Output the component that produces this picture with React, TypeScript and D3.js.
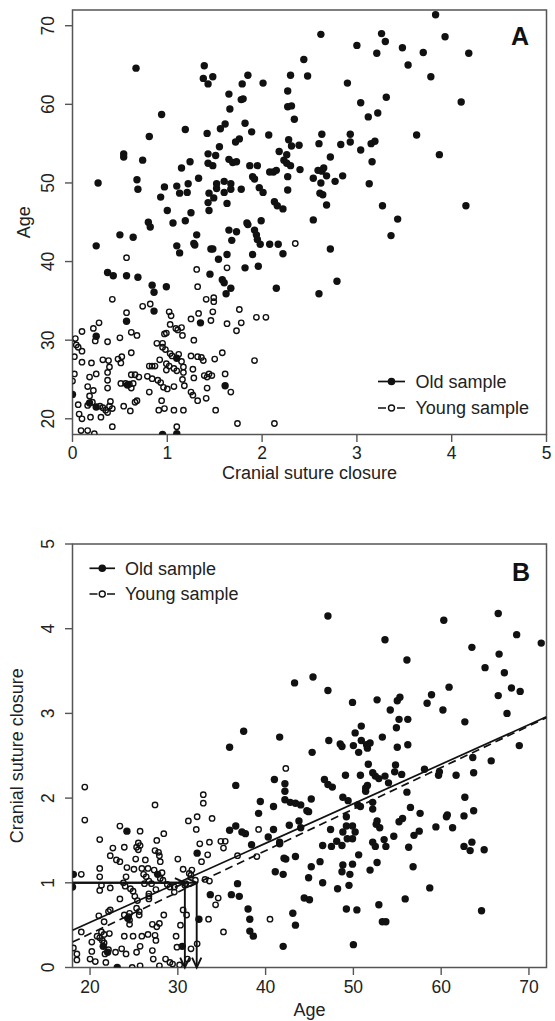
import React from 'react';
import * as d3 from 'd3';

const W = 555;
const H = 1021;
const FONT = "'Liberation Sans', Arial, Helvetica, sans-serif";

// [cranial suture closure, age]
const oldSample: [number, number][] = [
  [3.83,71.4],[2.62,68.9],[3.26,69.0],[3.30,68.0],[3.93,68.6],[3.00,67.5],[3.21,66.5],[3.48,67.2],[3.70,66.6],[4.18,66.5],
  [2.44,65.7],[3.54,65.0],[0.67,64.6],[1.39,64.9],[1.38,63.3],[1.43,62.6],[1.48,63.5],[1.85,63.7],[1.79,62.6],[2.01,62.7],
  [2.30,63.7],[2.48,63.6],[3.78,63.5],[2.90,62.7],[2.27,61.7],[1.65,61.3],[1.78,60.6],[1.80,60.7],[3.04,60.2],[3.31,60.9],
  [4.10,60.3],[2.27,59.7],[2.31,59.8],[1.66,59.4],[0.94,58.7],[2.34,58.1],[3.12,58.4],[3.22,58.9],[1.61,57.5],[1.82,57.6],
  [1.56,56.9],[1.19,56.8],[1.89,56.5],[0.81,55.9],[1.42,56.3],[1.76,55.6],[1.72,55.2],[2.07,56.1],[2.63,56.2],[2.93,56.2],
  [3.63,56.1],[2.28,55.5],[3.15,55.0],[3.19,55.3],[2.60,55.0],[2.31,54.7],[2.39,54.8],[2.83,54.9],[2.93,55.2],[1.55,54.6],
  [1.43,53.7],[1.51,53.5],[2.18,54.0],[3.04,54.2],[3.87,53.6],[0.54,53.7],[0.54,53.3],[0.74,52.9],[1.24,52.7],[1.43,52.5],
  [1.48,52.2],[1.65,53.0],[1.69,52.6],[1.73,52.7],[1.15,51.9],[1.87,52.2],[1.95,52.2],[2.23,52.9],[2.26,53.6],[2.26,52.5],
  [2.30,52.2],[2.40,51.7],[2.72,53.3],[3.16,52.7],[2.12,51.4],[2.15,51.6],[2.08,51.4],[2.59,51.6],[2.63,51.5],[2.65,51.9],
  [2.68,50.9],[2.85,50.9],[2.77,50.2],[2.54,50.6],[1.90,50.8],[1.92,50.5],[2.27,50.8],[3.13,49.9],[2.62,50.0],[0.27,50.0],
  [0.68,50.4],[0.69,49.2],[0.97,49.5],[1.10,49.6],[1.22,49.9],[1.21,48.8],[1.13,48.7],[1.33,50.6],[0.93,48.2],[1.52,49.9],
  [1.52,49.3],[1.60,50.2],[1.67,49.9],[1.67,49.2],[1.60,48.8],[1.78,49.2],[1.44,48.7],[1.49,48.1],[1.97,49.4],[2.01,48.8],
  [2.27,49.1],[2.61,48.7],[2.64,48.5],[2.68,47.2],[1.63,47.4],[1.43,47.5],[1.44,46.5],[1.00,46.5],[1.25,46.2],[2.13,47.6],
  [2.16,47.1],[2.22,46.7],[3.27,47.1],[4.15,47.1],[1.06,44.9],[1.19,45.2],[1.99,45.2],[2.54,45.3],[3.43,45.4],[1.65,44.0],
  [1.73,43.8],[1.84,44.9],[1.85,44.7],[0.80,45.0],[0.82,44.4],[0.50,43.4],[0.64,43.1],[1.31,43.4],[1.28,42.3],[1.29,42.1],
  [1.68,42.7],[1.92,44.0],[1.94,43.4],[1.95,42.8],[1.98,42.2],[2.08,42.2],[2.17,42.2],[3.36,43.3],[1.10,42.0],[0.25,42.0],
  [1.46,41.6],[1.48,41.6],[2.72,41.6],[1.13,41.1],[1.63,40.9],[2.22,41.0],[1.90,40.9],[1.54,40.3],[1.96,39.4],[1.82,39.2],
  [0.37,38.6],[0.43,38.2],[0.57,38.2],[0.69,38.0],[1.45,38.4],[1.58,37.7],[1.60,37.3],[2.79,37.5],[0.84,37.0],[0.86,36.1],
  [1.67,36.6],[1.62,35.9],[2.15,36.6],[2.60,35.9],[0.99,36.8],[0.86,33.7],[0.57,32.4],[1.35,32.2],[0.25,30.5],[1.10,27.7],
  [0.18,22.0],[1.61,24.2],[0.0,23.1],[0.95,18.0],[1.10,18.1],[0.25,21.5],[0.58,24.3]
];

const youngSample: [number, number][] = [
  [2.35,42.3],[0.57,40.5],[1.31,39.0],[1.63,39.2],[1.32,36.8],[0.42,35.2],[1.41,35.2],[1.49,35.4],[1.49,34.9],[0.74,34.3],
  [0.82,34.6],[1.76,33.9],[0.57,33.5],[1.02,33.6],[1.04,33.1],[1.33,33.4],[1.48,33.6],[1.94,32.9],[2.04,32.9],[1.25,32.7],
  [1.46,32.5],[0.28,32.2],[1.63,32.1],[1.78,32.2],[1.73,31.2],[0.10,31.1],[0.22,31.5],[0.62,31.0],[1.03,32.0],[1.09,31.5],
  [1.11,31.3],[1.15,31.6],[0.68,30.6],[0.97,30.8],[0.99,30.9],[1.16,30.6],[0.50,30.3],[0.03,30.2],[0.24,29.9],[0.37,29.8],
  [1.28,30.0],[0.89,29.6],[0.95,29.6],[0.95,29.1],[0.98,28.8],[0.06,29.1],[0.04,29.4],[0.10,28.6],[0.02,27.9],[0.20,27.1],
  [0.32,27.5],[0.38,27.4],[0.48,27.6],[0.52,27.9],[0.62,28.4],[1.03,28.3],[1.05,28.0],[1.12,28.2],[1.15,27.3],[1.17,26.6],
  [1.25,28.0],[1.32,27.9],[1.36,27.8],[1.38,27.4],[1.50,27.6],[1.58,28.4],[0.92,27.5],[0.99,27.0],[1.02,26.7],[0.10,27.2],
  [0.02,25.7],[0.25,25.7],[0.37,25.9],[0.39,26.6],[0.51,27.1],[0.62,25.6],[0.66,25.6],[0.70,25.3],[0.81,26.7],[0.84,26.7],
  [0.87,26.7],[0.79,25.4],[0.84,25.1],[0.90,24.9],[0.96,24.0],[0.93,24.6],[0.99,26.2],[1.07,26.4],[1.10,26.1],[1.17,25.9],
  [1.27,26.3],[1.28,25.2],[1.39,25.5],[1.42,25.3],[1.44,25.7],[1.47,25.5],[1.61,25.7],[0.18,25.3],[0.37,24.9],[0.16,24.1],
  [0.37,23.9],[0.51,24.5],[0.56,24.5],[0.60,24.4],[0.62,23.9],[0.64,24.5],[0.81,23.4],[1.00,23.8],[1.07,24.1],[1.16,25.0],
  [1.18,24.2],[1.42,23.9],[1.41,22.6],[1.25,23.4],[1.27,23.0],[1.32,22.3],[1.67,23.4],[0.22,23.6],[0.18,22.9],[0.21,22.1],
  [0.16,21.7],[0.29,21.6],[0.32,21.4],[0.35,21.1],[0.37,20.8],[0.39,21.6],[0.40,22.2],[0.42,21.3],[0.54,21.6],[0.61,21.0],
  [0.66,22.1],[0.68,22.3],[0.06,21.8],[0.07,20.6],[0.10,20.0],[0.19,20.2],[0.30,20.2],[0.91,21.1],[0.94,22.3],[0.97,21.3],
  [1.07,21.1],[1.17,21.1],[1.51,21.1],[0.09,18.5],[0.16,18.5],[0.23,18.1],[0.42,19.0],[1.10,19.0],[1.74,19.4],[2.13,19.4],
  [1.92,27.4],[0.0,24.8]
];

// regression fits shown in panel B (age -> closure)
const fitAges = [18, 72];
const oldFitClosure = [0.44, 2.96];
const youngFitClosure = [0.30, 2.95];
// inverse estimate: closure = 1 -> estimated ages
const targetClosure = 1;
const estimatedAges = [30.8, 32.15];

const closureTicks = [0, 1, 2, 3, 4, 5];
const ageTicks = [20, 30, 40, 50, 60, 70];
const closureDomain = [0, 5];
const ageDomain = [18, 72];
const legendLabels = ['Old sample', 'Young sample'];

const INK = '#111';
const BOX = '#555';
const TXT = '#222';

type Box = { left: number; right: number; top: number; bottom: number };

function Frame({ b, id }: { b: Box; id: string }) {
  return (
    <>
      <clipPath id={id}>
        <rect x={b.left} y={b.top} width={b.right - b.left} height={b.bottom - b.top} />
      </clipPath>
      <rect x={b.left} y={b.top} width={b.right - b.left} height={b.bottom - b.top}
        fill="none" stroke={BOX} strokeWidth={1.5} />
    </>
  );
}

function XAxis({ scale, ticks, b, labelY }: any) {
  return (
    <g>
      {ticks.map((t: number) => (
        <g key={t}>
          <line x1={scale(t)} x2={scale(t)} y1={b.bottom} y2={b.bottom + 7.5} stroke={BOX} strokeWidth={1.4} />
          <text x={scale(t)} y={labelY} textAnchor="middle" fontSize={17.5} fill={TXT} fontFamily={FONT}>{t}</text>
        </g>
      ))}
    </g>
  );
}

function YAxis({ scale, ticks, b, labelX }: any) {
  return (
    <g>
      {ticks.map((t: number) => (
        <g key={t}>
          <line x1={b.left - 7.5} x2={b.left} y1={scale(t)} y2={scale(t)} stroke={BOX} strokeWidth={1.4} />
          <text transform={`translate(${labelX},${scale(t)}) rotate(-90)`} textAnchor="middle" fontSize={17.5}
            fill={TXT} fontFamily={FONT}>{t}</text>
        </g>
      ))}
    </g>
  );
}

function Legend({ x0, x1, textX, y0, y1 }: { x0: number; x1: number; textX: number; y0: number; y1: number }) {
  const cx = (x0 + x1) / 2;
  const len = x1 - x0;
  const d = 8;
  return (
    <g>
      <line x1={x0} x2={x1} y1={y0} y2={y0} stroke={INK} strokeWidth={1.7} />
      <circle cx={cx} cy={y0} r={3.8} fill={INK} />
      <text x={textX} y={y0 + 6.3} fontSize={18} fill={TXT} fontFamily={FONT}>{legendLabels[0]}</text>
      <line x1={x0} x2={x1} y1={y1} y2={y1} stroke={INK} strokeWidth={1.7}
        strokeDasharray={`${d} ${len - 2 * d} ${d}`} />
      <circle cx={cx} cy={y1} r={3} fill="#fff" stroke={INK} strokeWidth={1.4} />
      <text x={textX} y={y1 + 6.3} fontSize={18} fill={TXT} fontFamily={FONT}>{legendLabels[1]}</text>
    </g>
  );
}

function Arrow({ x1, y1, x2, y2 }: { x1: number; y1: number; x2: number; y2: number }) {
  const ang = Math.atan2(y2 - y1, x2 - x1);
  const L = 11;
  const a = (25 * Math.PI) / 180;
  const p1 = [x2 - L * Math.cos(ang - a), y2 - L * Math.sin(ang - a)];
  const p2 = [x2 - L * Math.cos(ang + a), y2 - L * Math.sin(ang + a)];
  return (
    <g stroke={INK} strokeWidth={1.9} fill="none">
      <line x1={x1} y1={y1} x2={x2} y2={y2} />
      <polyline points={`${p1[0]},${p1[1]} ${x2},${y2} ${p2[0]},${p2[1]}`} />
    </g>
  );
}

export default function App() {
  const bA: Box = { left: 72.5, right: 546.5, top: 10, bottom: 434.5 };
  const bB: Box = { left: 72.5, right: 546.5, top: 544, bottom: 967.5 };

  const xA = d3.scaleLinear().domain(closureDomain).range([bA.left, bA.right]);
  const yA = d3.scaleLinear().domain(ageDomain).range([bA.bottom, bA.top]);
  const xB = d3.scaleLinear().domain(ageDomain).range([bB.left, bB.right]);
  const yB = d3.scaleLinear().domain(closureDomain).range([bB.bottom, bB.top]);

  const line = d3.line<[number, number]>().x((d) => xB(d[0])).y((d) => yB(d[1]));
  const oldFit = line(fitAges.map((a, i) => [a, oldFitClosure[i]] as [number, number])) || '';
  const youngFit = line(fitAges.map((a, i) => [a, youngFitClosure[i]] as [number, number])) || '';

  const rFilled = 3.7;
  const rOpen = 2.7;

  return (
    <svg width={W} height={H} viewBox={`0 0 ${W} ${H}`}
      style={{ position: 'absolute', left: 0, top: 0, background: '#fff' }}>
      <rect x={0} y={0} width={W} height={H} fill="#fff" />
      {/* Panel A */}
      <Frame b={bA} id="clipA" />
      <g clipPath="url(#clipA)">
        {oldSample.map((d, i) => (
          <circle key={'oa' + i} cx={xA(d[0])} cy={yA(d[1])} r={rFilled} fill={INK} />
        ))}
        {youngSample.map((d, i) => (
          <circle key={'ya' + i} cx={xA(d[0])} cy={yA(d[1])} r={rOpen} fill="none" stroke={INK} strokeWidth={1.4} />
        ))}
      </g>
      <XAxis scale={xA} ticks={closureTicks} b={bA} labelY={459} />
      <YAxis scale={yA} ticks={ageTicks} b={bA} labelX={54} />
      <text x={(bA.left + bA.right) / 2} y={479} textAnchor="middle" fontSize={18} fill={TXT} fontFamily={FONT}>
        Cranial suture closure
      </text>
      <text transform={`translate(30,${(bA.top + bA.bottom) / 2}) rotate(-90)`} textAnchor="middle" fontSize={18}
        fill={TXT} fontFamily={FONT}>Age</text>
      <text x={520} y={45} textAnchor="middle" fontSize={25} fontWeight="bold" fill={INK} fontFamily={FONT}>A</text>
      <Legend x0={378} x1={405} textX={415.5} y0={381.5} y1={408} />

      {/* Panel B */}
      <Frame b={bB} id="clipB" />
      <g clipPath="url(#clipB)">
        {oldSample.map((d, i) => (
          <circle key={'ob' + i} cx={xB(d[1])} cy={yB(d[0])} r={rFilled} fill={INK} />
        ))}
        {youngSample.map((d, i) => (
          <circle key={'yb' + i} cx={xB(d[1])} cy={yB(d[0])} r={rOpen} fill="none" stroke={INK} strokeWidth={1.4} />
        ))}
        <path d={oldFit} fill="none" stroke={INK} strokeWidth={1.7} />
        <path d={youngFit} fill="none" stroke={INK} strokeWidth={1.7} strokeDasharray="8 5" />
      </g>
      {estimatedAges.map((a, i) => (
        <g key={'arr' + i}>
          <Arrow x1={xB(ageDomain[0])} y1={yB(targetClosure)} x2={xB(a)} y2={yB(targetClosure)} />
          <Arrow x1={xB(a)} y1={yB(targetClosure)} x2={xB(a)} y2={yB(0)} />
        </g>
      ))}
      <XAxis scale={xB} ticks={ageTicks} b={bB} labelY={993} />
      <YAxis scale={yB} ticks={closureTicks} b={bB} labelX={54} />
      <text x={(bB.left + bB.right) / 2} y={1016} textAnchor="middle" fontSize={18} fill={TXT} fontFamily={FONT}>Age</text>
      <text transform={`translate(23,${(bB.top + bB.bottom) / 2}) rotate(-90)`} textAnchor="middle" fontSize={18}
        fill={TXT} fontFamily={FONT}>Cranial suture closure</text>
      <text x={521} y={580.5} textAnchor="middle" fontSize={25} fontWeight="bold" fill={INK} fontFamily={FONT}>B</text>
      <Legend x0={89.5} x1={115} textX={125} y0={568.3} y1={594} />
    </svg>
  );
}
